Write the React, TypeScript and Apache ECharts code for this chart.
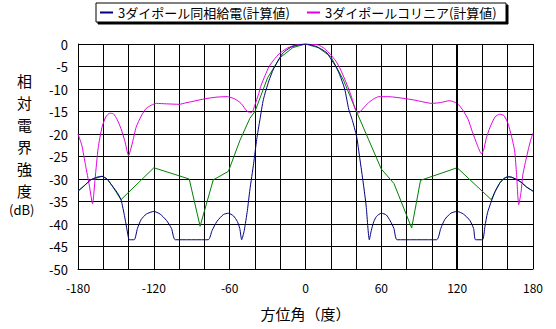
import React, { useEffect, useRef } from "react";
import * as echarts from "echarts";

const xTicks = [-180, -120, -60, 0, 60, 120, 180];
const seriesNames = ["3ダイポール同相給電(計算値)", "3ダイポールコリニア(計算値)"];

const navyDeg = [-180, -175, -170, -165, -161, -157, -153, -149, -146, -143, -140, -139.5, -135.5, -133, -130, -126, -120, -115, -110, -106, -103, -77, -74, -70, -65, -61, -57, -54, -52, -50.5, -48.5, -46, -44, -41, -38.6, -36, -33.3, -29, -25.4, -20.9, -17.5, -12, -7, 0, 8, 13, 17, 20, 24, 27, 31, 34.2, 36.8, 40.4, 43, 45.7, 48, 50.5, 52, 54, 56.2, 60, 64, 67, 70, 72.5, 103.7, 107, 110.2, 115, 120, 125, 130, 133, 134.5, 140, 142, 144, 147, 150, 153.7, 157, 160, 163, 167, 171, 175, 180];
const navyDb = [-32.7, -31.5, -30.2, -29.6, -29.4, -30, -31.5, -33, -34.6, -38.5, -43.2, -43.5, -43.5, -41, -39, -37.8, -37.2, -37.8, -39.2, -41, -43.5, -43.5, -41.5, -39.4, -37.9, -37.6, -38.2, -39.4, -41, -43.5, -41.5, -37, -32.4, -26.5, -21.2, -16.7, -12.3, -8.2, -5.6, -3.3, -1.9, -0.8, -0.3, 0, -0.5, -1.2, -2, -3.3, -5, -6.8, -10, -14.5, -16.7, -20.5, -25.5, -30.9, -36, -43.5, -41.5, -39.5, -38.3, -37.6, -38, -39.3, -41, -43.5, -43.5, -41, -39, -37.6, -37.2, -37.8, -39.2, -41, -43.5, -43.5, -40.5, -37.5, -35, -32.8, -30.9, -29.9, -29.5, -29.6, -30.1, -30.8, -31.8, -32.7];

const magDeg = [-180, -177, -174, -171, -168.5, -166.5, -164, -161, -158, -155, -152, -149, -146, -143, -140, -137, -134, -130, -126, -122, -118, -110, -100, -95, -85, -78, -70, -62, -56, -51, -46, -42.5, -40, -37, -35.4, -32, -28.8, -25, -20.9, -15, -10, -5, 0, 5, 10, 15, 19.7, 24, 27.6, 31, 34.2, 37, 39.5, 42, 45, 50, 54, 58, 65, 70, 78, 85, 92, 100, 107, 114, 120, 124, 128.6, 132, 136, 139.2, 141, 143, 146, 150, 153.7, 157, 160, 163, 165.5, 167, 168.7, 170.5, 172, 175, 178, 180];
const magDb = [-20, -22.5, -27, -31.5, -35.5, -30, -23, -18.5, -16.2, -15.4, -15.5, -16.8, -18.8, -21.5, -24.8, -22, -18.5, -16, -14.3, -13.6, -13.2, -13.3, -13.4, -13.1, -12.5, -12.1, -11.8, -11.7, -12.2, -13.2, -15, -15.2, -13.5, -11, -9.4, -7, -5, -3.5, -2.2, -1, -0.4, -0.1, 0, -0.1, -0.2, -1, -2.3, -3.8, -5.6, -7.8, -10, -12.3, -14.6, -15.3, -14.5, -13, -12.2, -11.7, -11.7, -11.8, -12.1, -12.4, -12.8, -13.2, -13, -12.6, -13.2, -14.5, -16.7, -19.5, -22.5, -24.4, -23.5, -21, -18.5, -16.2, -15.6, -15.9, -17.5, -20.5, -23.8, -29, -35.7, -33, -29, -25, -21.5, -19.8];

const greenDeg = [-180, -170, -161, -157, -153, -146, -120, -92, -83.4, -73, -61, -52, -44, -40, -30, -20, -10, 0, 10, 20, 30, 40, 50, 60, 70, 84, 91, 120, 147, 150, 153.7, 157, 160, 163, 167, 171, 175, 180];
const greenDb = [-32.7, -30.2, -29.4, -30, -31.5, -34.6, -27.5, -30, -40.5, -30.2, -28.3, -21.5, -16.5, -15, -7.5, -3, -0.8, 0, -0.8, -2.8, -8, -14.8, -21.3, -27.8, -31, -40.9, -30.3, -27.5, -34.6, -32.8, -30.9, -29.9, -29.5, -29.6, -30.1, -30.8, -31.8, -32.7];

const zip = (a: number[], b: number[]) => a.map((v, i) => [v, b[i]]);

export default function App() {
  const ref = useRef<HTMLDivElement>(null);
  useEffect(() => {
    if (!ref.current) return;
    const chart = echarts.init(ref.current, null, { renderer: "svg" });
    const font = "'Noto Sans CJK JP', sans-serif";
    chart.setOption({
      animation: false,
      backgroundColor: "#ffffff",
      textStyle: { fontFamily: font },
      legend: {
        left: 96,
        top: 3,
        padding: [3, 9, 3, 4],
        itemGap: 17,
        itemWidth: 13,
        itemHeight: 2,
        borderColor: "#000",
        borderWidth: 1,
        borderRadius: 0,
        backgroundColor: "#fff",
        shadowColor: "#000",
        shadowOffsetX: 2,
        shadowOffsetY: 2,
        shadowBlur: 0,
        textStyle: { fontSize: 13, color: "#000", fontFamily: font },
        data: [
          { name: seriesNames[0], icon: "rect" },
          { name: seriesNames[1], icon: "rect" },
        ],
      },
      grid: { left: 78, right: 23, top: 44, bottom: 60, containLabel: false },
      xAxis: {
        type: "value",
        min: -180,
        max: 180,
        interval: 20,
        axisLine: { onZero: false, lineStyle: { color: "#000", width: 1 } },
        axisTick: { show: false },
        splitLine: { show: true, lineStyle: { color: "#000", width: 1 } },
        axisLabel: {
          color: "#000",
          fontSize: 12,
          margin: 12,
          formatter: (v: number) => (xTicks.includes(v) ? String(v) : ""),
        },
        name: "方位角（度）",
        nameLocation: "middle",
        nameGap: 37,
        nameTextStyle: { fontSize: 15, color: "#000", fontFamily: font },
      },
      yAxis: {
        type: "value",
        min: -50,
        max: 0,
        interval: 5,
        axisLine: { show: true, onZero: false, lineStyle: { color: "#000", width: 1 } },
        axisTick: { show: false },
        splitLine: { show: true, lineStyle: { color: "#000", width: 1 } },
        axisLabel: { color: "#000", fontSize: 13, margin: 10 },
      },
      graphic: [
        {
          type: "text",
          left: 17,
          top: 69,
          style: {
            text: "相\n対\n電\n界\n強\n度",
            fontSize: 15,
            lineHeight: 22,
            fill: "#000",
            fontFamily: font,
          },
        },
        {
          type: "text",
          left: 9,
          top: 203,
          style: { text: "(dB)", fontSize: 13, fill: "#000", fontFamily: font },
        },
      ],
      series: [
        {
          name: "green",
          type: "line",
          data: zip(greenDeg, greenDb),
          showSymbol: false,
          smooth: false,
          lineStyle: { color: "#008000", width: 1 },
          itemStyle: { color: "#008000" },
          markLine: {
            silent: true,
            symbol: "none",
            label: { show: false },
            lineStyle: { color: "#000", width: 2, type: "solid" },
            data: [{ xAxis: 120 }],
          },
        },
        {
          name: seriesNames[1],
          type: "line",
          data: zip(magDeg, magDb),
          showSymbol: false,
          smooth: 0.2,
          lineStyle: { color: "#e000e0", width: 1 },
          itemStyle: { color: "#e000e0" },
        },
        {
          name: seriesNames[0],
          type: "line",
          data: zip(navyDeg, navyDb),
          showSymbol: false,
          smooth: 0.2,
          lineStyle: { color: "#000080", width: 1 },
          itemStyle: { color: "#000080" },
        },
      ],
    });
    return () => chart.dispose();
  }, []);
  return (
    <div
      ref={ref}
      style={{ position: "fixed", left: 0, top: 0, width: 556, height: 329 }}
    />
  );
}
